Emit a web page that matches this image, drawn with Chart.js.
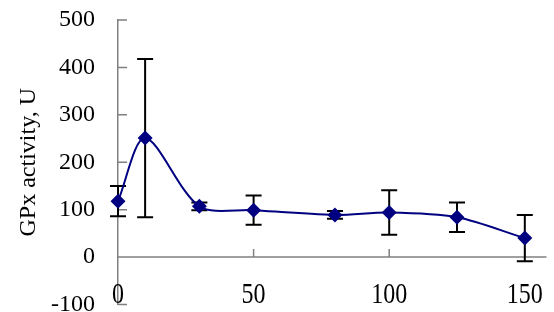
<!DOCTYPE html>
<html><head><meta charset="utf-8">
<script src="https://cdn.jsdelivr.net/npm/chart.js@4/dist/chart.umd.min.js"></script>
<style>html,body{margin:0;padding:0;background:#fff;}#wrap{width:554px;height:312px;position:relative;}</style>
</head><body><div id="wrap"><canvas id="c"></canvas></div>
<script>
const doses = [0, 10, 30, 50, 80, 100, 125, 150];
const gpxActivity = [118, 251, 107, 99, 89, 94, 84, 40];
const gpxError = [32, 167, 8, 31, 8, 47, 31, 49];
const yTicks = [-100, 0, 100, 200, 300, 400, 500];
const xTicks = [0, 50, 100, 150];
const yTitle = 'GPx activity, U';

const FAMILY = '"Liberation Serif", "Times New Roman", serif';
const FONT = {family: FAMILY, size: 24};
const AXIS_COLOR = '#808080';

const axisPlugin = {
  id: 'axesAndErrors',
  beforeDatasetsDraw(chart) {
    const {ctx, chartArea, scales: {x, y}} = chart;
    ctx.save();
    const y0 = y.getPixelForValue(0);
    ctx.strokeStyle = AXIS_COLOR;
    ctx.lineWidth = 1.5;
    ctx.beginPath();
    ctx.moveTo(chartArea.left, y0);
    ctx.lineTo(chartArea.right, y0);
    xTicks.forEach(v => {
      if (v === 0) return;
      const px = x.getPixelForValue(v);
      ctx.moveTo(px, y0);
      ctx.lineTo(px, y0 - 8);
    });
    yTicks.forEach(v => {
      const py = y.getPixelForValue(v);
      ctx.moveTo(chartArea.left, py);
      ctx.lineTo(chartArea.left + 9, py);
    });
    ctx.stroke();

    ctx.strokeStyle = '#000';
    ctx.lineWidth = 2;
    ctx.beginPath();
    doses.forEach((d, i) => {
      const px = x.getPixelForValue(d);
      const top = y.getPixelForValue(gpxActivity[i] + gpxError[i]);
      const bot = y.getPixelForValue(gpxActivity[i] - gpxError[i]);
      ctx.moveTo(px, top); ctx.lineTo(px, bot);
      ctx.moveTo(px - 8, top); ctx.lineTo(px + 8, top);
      ctx.moveTo(px - 8, bot); ctx.lineTo(px + 8, bot);
    });
    ctx.stroke();
    ctx.restore();
  },
  afterDraw(chart) {
    const {ctx, chartArea, scales: {x}} = chart;
    ctx.save();
    ctx.fillStyle = '#000';
    ctx.font = '24px ' + FAMILY;
    ctx.textAlign = 'center';
    ctx.textBaseline = 'middle';
    const cy = chartArea.bottom - 9;
    xTicks.forEach(v => {
      const px = x.getPixelForValue(v);
      ctx.save();
      ctx.translate(px, cy);
      ctx.scale(1, 1.25);
      ctx.fillText(String(v), 0, 0);
      ctx.restore();
    });
    ctx.restore();
  }
};

new Chart(document.getElementById('c'), {
  type: 'line',
  data: {
    datasets: [{
      data: doses.map((d, i) => ({x: d, y: gpxActivity[i]})),
      borderColor: '#000080',
      backgroundColor: '#000080',
      borderWidth: 2,
      tension: 0.3,
      pointStyle: 'rectRot',
      pointRadius: 7.5,
      pointBorderWidth: 0,
      clip: false
    }]
  },
  options: {
    responsive: true,
    maintainAspectRatio: false,
    animation: false,
    layout: {padding: {top: 20, left: 0, right: 0, bottom: 0}},
    plugins: {legend: {display: false}, tooltip: {enabled: false}},
    scales: {
      x: {
        type: 'linear',
        min: 0,
        max: 158,
        grid: {display: false},
        border: {display: false},
        afterBuildTicks: s => { s.ticks = xTicks.map(v => ({value: v})); },
        afterFit: s => { s.height = 7; s.paddingLeft = 0; s.paddingRight = 0; },
        ticks: {display: false}
      },
      y: {
        type: 'linear',
        min: -100,
        max: 500,
        grid: {display: false},
        border: {display: true, color: AXIS_COLOR, width: 1.5},
        afterBuildTicks: s => { s.ticks = yTicks.map(v => ({value: v})); },
        afterFit: s => { s.width = 118; s.paddingTop = 0; s.paddingBottom = 0; },
        ticks: {font: FONT, color: '#000', padding: 15},
        title: {display: true, text: yTitle, font: FONT, color: '#000', padding: {top: 14, bottom: 0}}
      }
    }
  },
  plugins: [axisPlugin]
});
</script>
</body></html>
